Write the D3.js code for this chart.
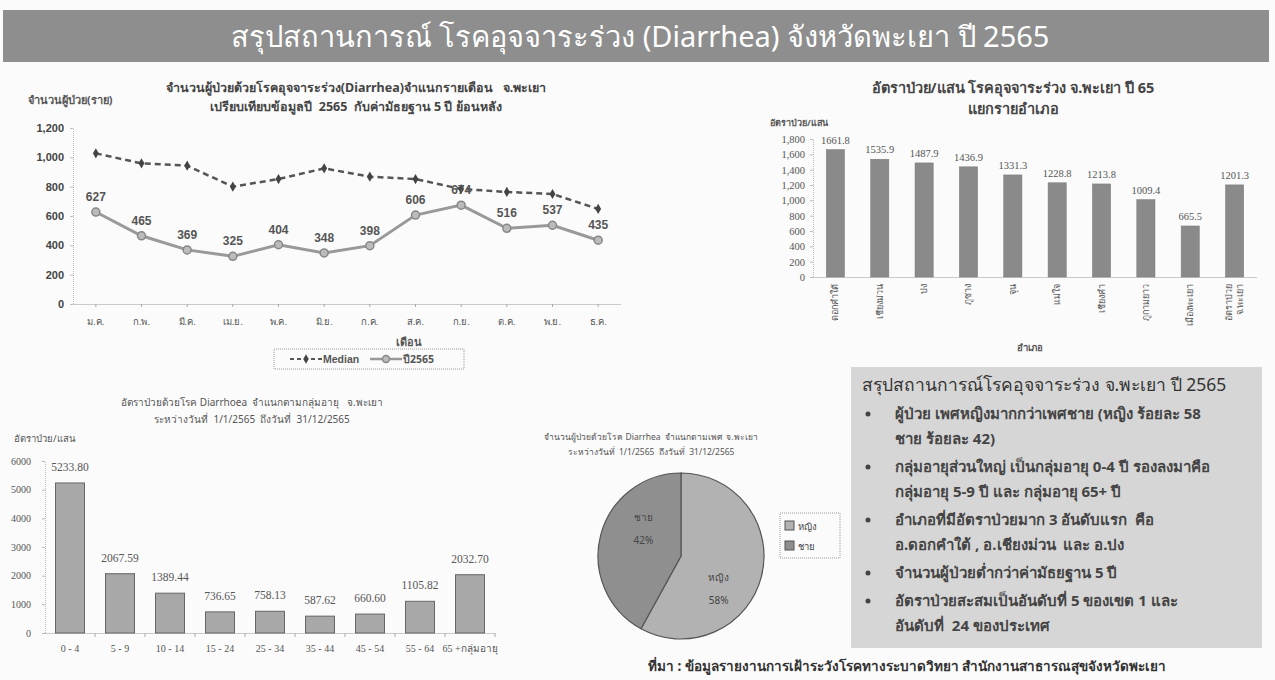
<!DOCTYPE html>
<html>
<head>
<meta charset="utf-8">
<script src="https://cdn.jsdelivr.net/npm/d3@7"></script>
<style>
  html, body { margin: 0; padding: 0; background: #fbfbfb; }
  svg { display: block; font-family: "Noto Sans", Tahoma, "DejaVu Sans", sans-serif; }
  svg text { white-space: pre; }
</style>
</head>
<body>
<svg id="board" width="1275" height="680"></svg>
<script>
// ---- data ----
const months = ["ม.ค.", "ก.พ.", "มี.ค.", "เม.ย.", "พ.ค.", "มิ.ย.", "ก.ค.", "ส.ค.", "ก.ย.", "ต.ค.", "พ.ย.", "ธ.ค."];
const median5yr = [1027, 959, 943, 800, 852, 925, 868, 852, 784, 764, 750, 648];
const cases2565 = [627, 465, 369, 325, 404, 348, 398, 606, 674, 516, 537, 435];
const caseTicks = [0, 200, 400, 600, 800, 1000, 1200];

const districts = ["ดอกคำใต้", "เชียงม่วน", "ปง", "ภูซาง", "จุน", "แม่ใจ", "เชียงคำ", "ภูกามยาว", "เมืองพะเยา", "อัตราป่วย|จ.พะเยา"];
const districtRates = [1661.8, 1535.9, 1487.9, 1436.9, 1331.3, 1228.8, 1213.8, 1009.4, 665.5, 1201.3];
const districtTicks = [0, 200, 400, 600, 800, 1000, 1200, 1400, 1600, 1800];

const ageGroups = ["0 - 4", "5 - 9", "10 - 14", "15 - 24", "25 - 34", "35 - 44", "45 - 54", "55 - 64", "65 +กลุ่มอายุ"];
const ageRates = [5233.80, 2067.59, 1389.44, 736.65, 758.13, 587.62, 660.60, 1105.82, 2032.70];
const ageTicks = [0, 1000, 2000, 3000, 4000, 5000, 6000];

const sexLabels = ["หญิง", "ชาย"];
const sexShares = [58, 42];

const summaryTitle = "สรุปสถานการณ์โรคอุจจาระร่วง จ.พะเยา ปี 2565";
const summaryItems = [
  ["ผู้ป่วย เพศหญิงมากกว่าเพศชาย (หญิง ร้อยละ 58", "ชาย ร้อยละ 42)"],
  ["กลุ่มอายุส่วนใหญ่ เป็นกลุ่มอายุ 0-4 ปี รองลงมาคือ", "กลุ่มอายุ 5-9 ปี และ กลุ่มอายุ 65+ ปี"],
  ["อำเภอที่มีอัตราป่วยมาก 3 อันดับแรก  คือ", "อ.ดอกคำใต้ , อ.เชียงม่วน  และ อ.ปง"],
  ["จำนวนผู้ป่วยต่ำกว่าค่ามัธยฐาน 5 ปี"],
  ["อัตราป่วยสะสมเป็นอันดับที่ 5 ของเขต 1 และ", "อันดับที่  24 ของประเทศ"]
];

const svg = d3.select("#board");

// ---- header banner ----
svg.append("rect").attr("x", 3).attr("y", 10).attr("width", 1266).attr("height", 52)
  .attr("fill", "#8e8e8e");
svg.append("text").attr("x", 640).attr("y", 47).attr("text-anchor", "middle")
  .attr("fill", "#fff").attr("font-size", 29)
  .text("สรุปสถานการณ์ โรคอุจจาระร่วง (Diarrhea) จังหวัดพะเยา ปี 2565");

// ---- monthly cases line chart ----
{
  const g = svg.append("g");
  const x = d3.scaleBand().domain(months).range([73, 621]);
  const y = d3.scaleLinear().domain([0, 1200]).range([304, 128]);
  const cx = d => x(d) + x.bandwidth() / 2;

  g.append("text").attr("x", 356).attr("y", 92).attr("text-anchor", "middle")
    .attr("font-size", 12.5).attr("font-weight", "bold").attr("fill", "#444")
    .text("จำนวนผู้ป่วยด้วยโรคอุจจาระร่วง(Diarrhea)จำแนกรายเดือน   จ.พะเยา");
  g.append("text").attr("x", 356).attr("y", 111).attr("text-anchor", "middle")
    .attr("font-size", 12.5).attr("font-weight", "bold").attr("fill", "#444")
    .text("เปรียบเทียบข้อมูลปี  2565  กับค่ามัธยฐาน 5 ปี ย้อนหลัง");
  g.append("text").attr("x", 28).attr("y", 104)
    .attr("font-size", 11).attr("font-weight", "bold").attr("fill", "#555")
    .text("จำนวนผู้ป่วย(ราย)");

  const yAxis = g.append("g").attr("transform", "translate(73,0)")
    .call(d3.axisLeft(y).tickValues(caseTicks).tickFormat(d3.format(",")).tickSize(3));
  yAxis.select(".domain").attr("stroke", "#bbb").attr("stroke-dasharray", "1,1");
  yAxis.selectAll(".tick line").attr("stroke", "#bbb");
  yAxis.selectAll("text").attr("font-size", 11).attr("font-weight", "bold").attr("fill", "#444")
    .attr("font-family", "Liberation Sans, Arial, sans-serif").attr("dx", -3);

  const xAxis = g.append("g").attr("transform", "translate(0,304)")
    .call(d3.axisBottom(x).tickSize(3).tickSizeOuter(0));
  xAxis.select(".domain").attr("stroke", "#999").attr("stroke-dasharray", "1,1");
  xAxis.selectAll(".tick line").attr("stroke", "#aaa");
  xAxis.selectAll("text").attr("font-size", 9.5).attr("fill", "#555").attr("dy", 15);
  g.append("text").attr("x", 409).attr("y", 346).attr("text-anchor", "middle")
    .attr("font-size", 11).attr("font-weight", "bold").attr("fill", "#555").text("เดือน");

  const line = d3.line().x((d, i) => cx(months[i])).y(d => y(d));
  g.append("path").datum(median5yr).attr("d", line).attr("fill", "none")
    .attr("stroke", "#555").attr("stroke-width", 2.5).attr("stroke-dasharray", "6,4");
  g.selectAll(".mdot").data(median5yr).join("path").attr("class", "mdot")
    .attr("transform", (d, i) => `translate(${cx(months[i])},${y(d)})`)
    .attr("d", d3.symbol(d3.symbolDiamond, 30)).attr("fill", "#444");

  g.append("path").datum(cases2565).attr("d", line).attr("fill", "none")
    .attr("stroke", "#999").attr("stroke-width", 3);
  g.selectAll(".cdot").data(cases2565).join("circle").attr("class", "cdot")
    .attr("cx", (d, i) => cx(months[i])).attr("cy", d => y(d)).attr("r", 4)
    .attr("fill", "#bbb").attr("stroke", "#888").attr("stroke-width", 1.5);
  g.selectAll(".clab").data(cases2565).join("text").attr("class", "clab")
    .attr("x", (d, i) => cx(months[i])).attr("y", d => y(d) - 11)
    .attr("text-anchor", "middle").attr("font-size", 12).attr("font-weight", "bold")
    .attr("font-family", "Liberation Sans, Arial, sans-serif").attr("fill", "#555")
    .text(d => d);

  // legend
  const lg = g.append("g");
  lg.append("rect").attr("x", 274).attr("y", 349).attr("width", 190).attr("height", 20)
    .attr("fill", "none").attr("stroke", "#999").attr("stroke-dasharray", "1,1");
  lg.append("line").attr("x1", 290).attr("x2", 322).attr("y1", 359).attr("y2", 359)
    .attr("stroke", "#555").attr("stroke-width", 2).attr("stroke-dasharray", "4,3");
  lg.append("path").attr("transform", "translate(306,359)")
    .attr("d", d3.symbol(d3.symbolDiamond, 26)).attr("fill", "#444");
  lg.append("text").attr("x", 323).attr("y", 363).attr("font-size", 10.5).attr("font-weight", "bold")
    .attr("fill", "#555").attr("font-family", "Liberation Sans, Arial, sans-serif").text("Median");
  lg.append("line").attr("x1", 370).attr("x2", 402).attr("y1", 359).attr("y2", 359)
    .attr("stroke", "#999").attr("stroke-width", 2.5);
  lg.append("circle").attr("cx", 386).attr("cy", 359).attr("r", 3.5)
    .attr("fill", "#bbb").attr("stroke", "#888").attr("stroke-width", 1.5);
  lg.append("text").attr("x", 403).attr("y", 363).attr("font-size", 10.5).attr("font-weight", "bold")
    .attr("fill", "#555").text("ปี2565");
}

// ---- district rate bar chart ----
{
  const g = svg.append("g");
  const x = d3.scaleBand().domain(districts).range([813, 1257]).paddingInner(0.59).paddingOuter(0.3);
  const y = d3.scaleLinear().domain([0, 1800]).range([277, 139]);

  g.append("text").attr("x", 1013).attr("y", 93).attr("text-anchor", "middle")
    .attr("font-size", 14.5).attr("font-weight", "bold").attr("fill", "#444")
    .text("อัตราป่วย/แสน โรคอุจจาระร่วง จ.พะเยา ปี 65");
  g.append("text").attr("x", 1013).attr("y", 114).attr("text-anchor", "middle")
    .attr("font-size", 14.5).attr("font-weight", "bold").attr("fill", "#444").text("แยกรายอำเภอ");
  g.append("text").attr("x", 770).attr("y", 126).attr("font-size", 9).attr("font-weight", "bold")
    .attr("fill", "#555").text("อัตราป่วย/แสน");

  const yAxis = g.append("g").attr("transform", "translate(813,0)")
    .call(d3.axisLeft(y).tickValues(districtTicks).tickFormat(d3.format(",")).tickSize(3));
  yAxis.select(".domain").attr("stroke", "#bbb").attr("stroke-dasharray", "1,1");
  yAxis.selectAll(".tick line").attr("stroke", "#bbb");
  yAxis.selectAll("text").attr("font-size", 10.5).attr("fill", "#555")
    .attr("font-family", "Liberation Serif, serif").attr("dx", -2);

  const xAxis = g.append("g").attr("transform", "translate(0,277)")
    .call(d3.axisBottom(x).tickSize(0).tickFormat(""));
  xAxis.select(".domain").attr("stroke", "#999").attr("stroke-dasharray", "1,1");

  g.selectAll(".bar").data(districtRates).join("rect").attr("class", "bar")
    .attr("x", (d, i) => x(districts[i])).attr("width", x.bandwidth())
    .attr("y", d => y(d)).attr("height", d => y(0) - y(d))
    .attr("fill", "#8a8a8a").attr("stroke", "#777").attr("stroke-width", 0.5);
  g.selectAll(".blab").data(districtRates).join("text").attr("class", "blab")
    .attr("x", (d, i) => x(districts[i]) + x.bandwidth() / 2).attr("y", d => y(d) - 6)
    .attr("text-anchor", "middle").attr("font-size", 10.5).attr("fill", "#555")
    .attr("font-family", "Liberation Serif, serif").text(d => d.toFixed(1));

  // rotated district names
  districts.forEach(name => {
    const parts = name.split("|");
    const xc = x(name) + x.bandwidth() / 2;
    parts.forEach((p, j) => {
      const off = (j - (parts.length - 1) / 2) * 11;
      g.append("text")
        .attr("transform", `translate(${xc + off + 3},284) rotate(-90)`)
        .attr("text-anchor", "end").attr("font-size", 9).attr("fill", "#555").text(p);
    });
  });
  g.append("text").attr("x", 1030).attr("y", 351).attr("text-anchor", "middle")
    .attr("font-size", 9.5).attr("font-weight", "bold").attr("fill", "#555").text("อำเภอ");
}

// ---- age group rate bar chart ----
{
  const g = svg.append("g");
  const x = d3.scaleBand().domain(ageGroups).range([45, 495]).paddingInner(0.42).paddingOuter(0.21);
  const y = d3.scaleLinear().domain([0, 6000]).range([633, 461]);

  g.append("text").attr("x", 252).attr("y", 406).attr("text-anchor", "middle")
    .attr("font-size", 10).attr("fill", "#555")
    .text("อัตราป่วยด้วยโรค Diarrhoea  จำแนกตามกลุ่มอายุ   จ.พะเยา");
  g.append("text").attr("x", 252).attr("y", 423).attr("text-anchor", "middle")
    .attr("font-size", 10).attr("fill", "#555")
    .text("ระหว่างวันที่  1/1/2565  ถึงวันที่  31/12/2565");
  g.append("text").attr("x", 14).attr("y", 442).attr("font-size", 9.5).attr("fill", "#555")
    .text("อัตราป่วย/แสน");

  const yAxis = g.append("g").attr("transform", "translate(45,0)")
    .call(d3.axisLeft(y).tickValues(ageTicks).tickFormat(d3.format("d")).tickSize(3));
  yAxis.select(".domain").attr("stroke", "#bbb").attr("stroke-dasharray", "1,1");
  yAxis.selectAll(".tick line").attr("stroke", "#bbb");
  yAxis.selectAll("text").attr("font-size", 10).attr("fill", "#555")
    .attr("font-family", "Liberation Serif, serif").attr("dx", -8);

  const xAxis = g.append("g").attr("transform", "translate(0,633)")
    .call(d3.axisBottom(x).tickSize(0));
  xAxis.select(".domain").attr("stroke", "#999").attr("stroke-dasharray", "1,1");
  xAxis.selectAll("text").attr("font-size", 10).attr("fill", "#555")
    .attr("font-family", "Liberation Serif, serif").attr("dy", 16);
  // tick marks sit on the band boundaries
  g.selectAll(".btick").data(ageGroups).join("line").attr("class", "btick")
    .attr("x1", d => x(d) - x.step() * x.paddingInner() / 2 + x.step())
    .attr("x2", d => x(d) - x.step() * x.paddingInner() / 2 + x.step())
    .attr("y1", 633).attr("y2", 637).attr("stroke", "#aaa");

  g.selectAll(".bar").data(ageRates).join("rect").attr("class", "bar")
    .attr("x", (d, i) => x(ageGroups[i])).attr("width", x.bandwidth())
    .attr("y", d => y(d)).attr("height", d => y(0) - y(d))
    .attr("fill", "#a8a8a8").attr("stroke", "#666").attr("stroke-width", 1);
  g.selectAll(".blab").data(ageRates).join("text").attr("class", "blab")
    .attr("x", (d, i) => x(ageGroups[i]) + x.bandwidth() / 2).attr("y", d => y(d) - 12)
    .attr("text-anchor", "middle").attr("font-size", 11.5).attr("fill", "#555")
    .attr("font-family", "Liberation Serif, serif").text(d => d.toFixed(2));
}

// ---- sex share pie ----
{
  const g = svg.append("g");
  g.append("text").attr("x", 651).attr("y", 440).attr("text-anchor", "middle")
    .attr("font-size", 8.5).attr("fill", "#555")
    .text("จำนวนผู้ป่วยด้วยโรค Diarrhea  จำแนกตามเพศ  จ.พะเยา");
  g.append("text").attr("x", 651).attr("y", 455).attr("text-anchor", "middle")
    .attr("font-size", 8.5).attr("fill", "#555")
    .text("ระหว่างวันที่  1/1/2565  ถึงวันที่  31/12/2565");

  const colors = d3.scaleOrdinal().domain(sexLabels).range(["#b2b2b2", "#8f8f8f"]);
  const pie = d3.pie().sort(null).value(d => d.v);
  const arcs = pie(sexLabels.map((k, i) => ({ k, v: sexShares[i] })));
  const arc = d3.arc().innerRadius(0).outerRadius(83);
  const pg = g.append("g").attr("transform", "translate(681,556)");
  pg.selectAll("path").data(arcs).join("path").attr("d", arc)
    .attr("fill", d => colors(d.data.k)).attr("stroke", "#555").attr("stroke-width", 1.2);
  arcs.forEach(a => {
    const ang = (a.startAngle + a.endAngle) / 2 + 0.42;
    const lx = Math.sin(ang) * 48, ly = -Math.cos(ang) * 48;
    pg.append("text").attr("x", lx).attr("y", ly - 5).attr("text-anchor", "middle")
      .attr("font-size", 10).attr("fill", "#444").text(a.data.k);
    pg.append("text").attr("x", lx).attr("y", ly + 18).attr("text-anchor", "middle")
      .attr("font-size", 10).attr("fill", "#444").text(a.data.v + "%");
  });

  const lg = g.append("g");
  lg.append("rect").attr("x", 780).attr("y", 513).attr("width", 60).attr("height", 45)
    .attr("fill", "none").attr("stroke", "#999").attr("stroke-dasharray", "1,1");
  sexLabels.forEach((k, i) => {
    lg.append("rect").attr("x", 785).attr("y", 521 + i * 20).attr("width", 9).attr("height", 9)
      .attr("fill", colors(k)).attr("stroke", "#555");
    lg.append("text").attr("x", 798).attr("y", 530 + i * 20).attr("font-size", 9.5)
      .attr("fill", "#444").text(k);
  });
}

// ---- summary box ----
{
  const g = svg.append("g");
  g.append("rect").attr("x", 851).attr("y", 367).attr("width", 411).attr("height", 281)
    .attr("fill", "#d6d6d6");
  g.append("text").attr("x", 862).attr("y", 391).attr("font-size", 17.5).attr("fill", "#333")
    .text(summaryTitle);
  let yy = 419;
  summaryItems.forEach(item => {
    g.append("circle").attr("cx", 868).attr("cy", yy - 5).attr("r", 2.5).attr("fill", "#444");
    item.forEach((ln, j) => {
      g.append("text").attr("x", 895).attr("y", yy).attr("font-size", 15).attr("font-weight", "bold")
        .attr("fill", "#444").text(ln);
      yy += (j === item.length - 1) ? 28 : 25;
    });
  });
}

// ---- source note ----
svg.append("text").attr("x", 648).attr("y", 671).attr("font-size", 13.5).attr("font-weight", "bold")
  .attr("fill", "#333")
  .text("ที่มา : ข้อมูลรายงานการเฝ้าระวังโรคทางระบาดวิทยา สำนักงานสาธารณสุขจังหวัดพะเยา");
</script>
</body>
</html>
